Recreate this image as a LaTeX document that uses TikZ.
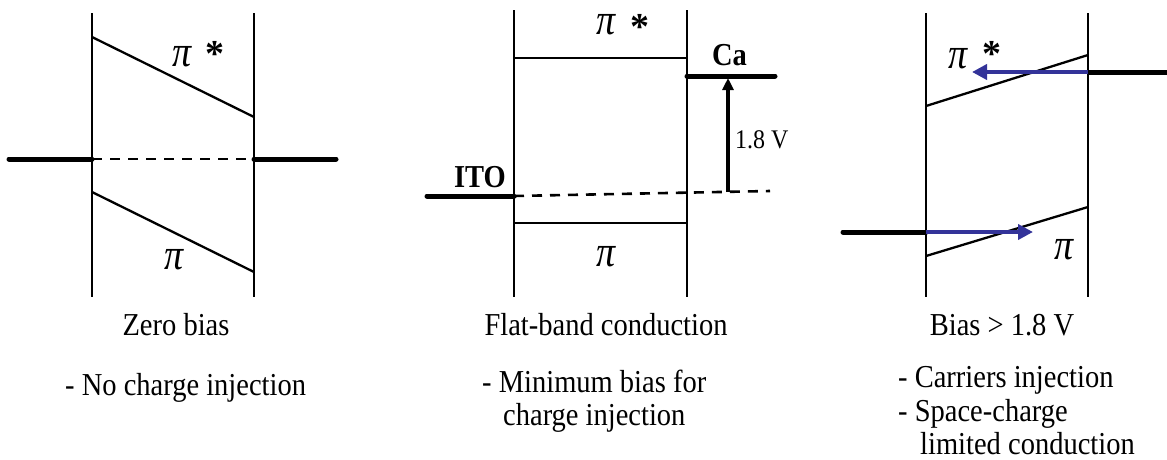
\documentclass[tikz,border=0pt]{standalone}
\usepackage{fontspec}
\setmainfont{Liberation Serif}
\usetikzlibrary{arrows.meta}
\definecolor{injblue}{RGB}{51,51,153}
\newcommand{\mypi}{\scalebox{1}[1.15]{\fontsize{38}{38}\selectfont\itshape π}}
\newcommand{\mystar}{{\fontsize{38}{38}\selectfont\bfseries *}}
\newcommand{\stretchtxt}[1]{\scalebox{1}[1.12]{#1}}
\begin{document}
\begin{tikzpicture}[x=1pt,y=-1pt,
  thinline/.style={line width=2.3pt},
  thickline/.style={line width=5pt},
  dashline/.style={line width=2.6pt, dash pattern=on 10pt off 8pt},
  bluearrow/.style={line width=4.5pt, injblue, -{Triangle[length=15pt,width=15pt]}},
  blackarrow/.style={line width=3.2pt, -{Triangle[length=12pt,width=11pt]}},
  caption/.style={inner sep=0pt, anchor=base west, font=\fontsize{28.5}{30}\selectfont},
  label/.style={inner sep=0pt, font=\fontsize{28.5}{30}\selectfont\bfseries},
  sym/.style={inner sep=0pt}
]
\useasboundingbox (0,0) rectangle (1167,459);

% ---------- Panel 1: zero bias ----------
\coordinate (a1t) at (92,13);  \coordinate (a1b) at (92,297);
\coordinate (a2t) at (254,13); \coordinate (a2b) at (254,297);
\coordinate (aU1) at (92,37);  \coordinate (aU2) at (254,117);
\coordinate (aL1) at (92,192); \coordinate (aL2) at (254,272);
\coordinate (aF1) at (92,159); \coordinate (aF2) at (254,159);
\coordinate (aE1) at (9,159);  \coordinate (aE2) at (336,159);
\draw[thinline] (a1t) -- (a1b);
\draw[thinline] (a2t) -- (a2b);
\draw[thinline] (aU1) -- (aU2);
\draw[thinline] (aL1) -- (aL2);
\draw[dashline] (aF1) -- (aF2);
\draw[thickline, line cap=round] (aE1) -- (aF1);
\draw[thickline, line cap=round] (aF2) -- (aE2);
\node[sym] (api) at (182,57) {\mypi};
\node[sym] (astar) at (215,54) {\mystar};
\node[sym] (apil) at (174,260) {\mypi};

% ---------- Panel 2: flat band ----------
\coordinate (b1t) at (514,10);  \coordinate (b1b) at (514,297);
\coordinate (b2t) at (687,10);  \coordinate (b2b) at (687,297);
\coordinate (bU1) at (514,58);  \coordinate (bU2) at (687,58);
\coordinate (bL1) at (514,223); \coordinate (bL2) at (687,223);
\coordinate (bCa1) at (687,76); \coordinate (bCa2) at (775,76);
\coordinate (bI1) at (427,196); \coordinate (bI2) at (514,196);
\coordinate (bD2) at (770,191);
\coordinate (bA1) at (728,192); \coordinate (bA2) at (728,78);
\draw[thinline] (b1t) -- (b1b);
\draw[thinline] (b2t) -- (b2b);
\draw[thinline] (bU1) -- (bU2);
\draw[thinline] (bL1) -- (bL2);
\draw[thickline, line cap=round] (bCa1) -- (bCa2);
\draw[thickline, line cap=round] (bI1) -- (bI2);
\draw[dashline] (bI2) -- (bD2);
\draw[blackarrow] (bA1) -- (bA2);
\node[sym] (bpi) at (606,25) {\mypi};
\node[sym] (bstar) at (640,27) {\mystar};
\node[sym] (bpil) at (606,257) {\mypi};
\node[label, anchor=base] (ca) at (729.5,65) {\stretchtxt{Ca}};
\node[label, anchor=base] (ito) at (480,187) {\stretchtxt{ITO}};
\node[inner sep=0pt, anchor=base west, font=\fontsize{24}{26}\selectfont] (volt) at (735,148) {\stretchtxt{1.8 V}};

% ---------- Panel 3: bias > 1.8 V ----------
\coordinate (c1t) at (926,13);  \coordinate (c1b) at (926,297);
\coordinate (c2t) at (1088,13); \coordinate (c2b) at (1088,297);
\coordinate (cU1) at (926,106); \coordinate (cU2) at (1088,55);
\coordinate (cL1) at (926,256); \coordinate (cL2) at (1088,207);
\coordinate (cR1) at (1088,72); \coordinate (cR2) at (1167,72);
\coordinate (cRt) at (972,72);
\coordinate (cS1) at (843,232); \coordinate (cS2) at (926,232);
\coordinate (cSt) at (1033,232);
\draw[thinline] (c1t) -- (c1b);
\draw[thinline] (c2t) -- (c2b);
\draw[thinline] (cU1) -- (cU2);
\draw[thinline] (cL1) -- (cL2);
\draw[thickline] (cR1) -- (cR2);
\draw[thickline, line cap=round] (cS1) -- (cS2);
\draw[bluearrow] (cR1) -- (cRt);
\draw[bluearrow] (cS2) -- (cSt);
\node[sym] (cpi) at (958,59) {\mypi};
\node[sym] (cstar) at (992,54) {\mystar};
\node[sym] (cpil) at (1064,250) {\mypi};

% ---------- Captions ----------
\node[caption, anchor=base] (t1) at (176,335) {\stretchtxt{Zero bias}};
\node[caption, anchor=base] (t2) at (606,335) {\stretchtxt{Flat-band conduction}};
\node[caption, anchor=base] (t3) at (1002,335) {\stretchtxt{Bias > 1.8 V}};
\node[caption] (d1) at (65,395) {\stretchtxt{- No charge injection}};
\node[caption] (d2a) at (482,392) {\stretchtxt{- Minimum bias for}};
\node[caption] (d2b) at (503,425) {\stretchtxt{charge injection}};
\node[caption] (d3a) at (898,387) {\stretchtxt{- Carriers injection}};
\node[caption] (d3b) at (898,421) {\stretchtxt{- Space-charge}};
\node[caption] (d3c) at (920,454) {\stretchtxt{limited conduction}};
\end{tikzpicture}
\end{document}
